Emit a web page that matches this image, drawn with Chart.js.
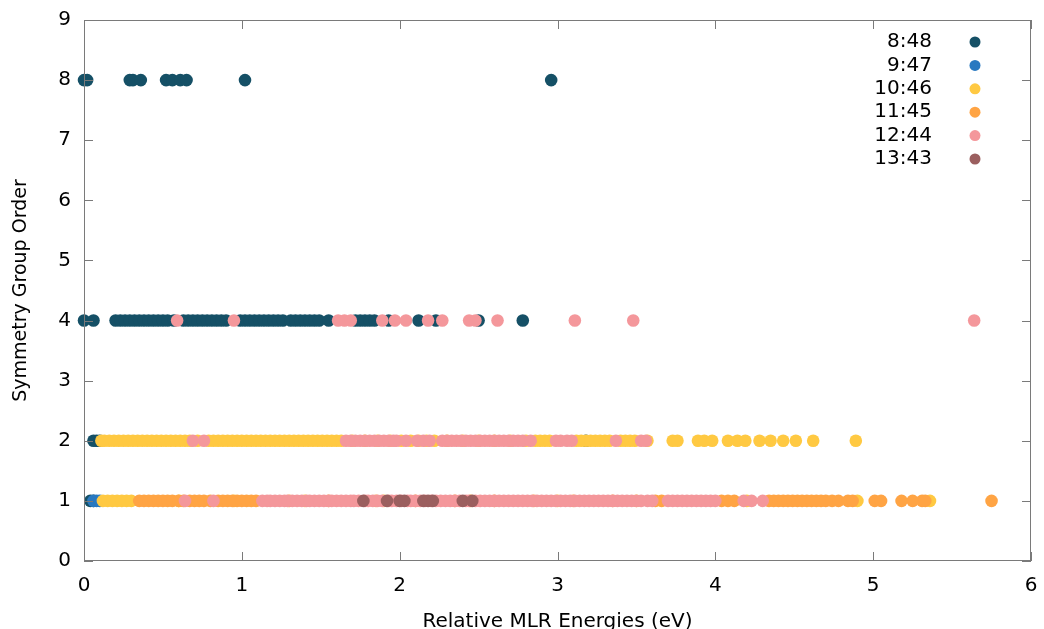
<!DOCTYPE html>
<html lang="en">
  <head>
    <meta charset="UTF-8" />
    <title>Symmetry Group Order</title>
    <style>
      body { margin: 0; background: #fff; }
    </style>
  </head>
  <body>
    <canvas id="chart" width="1044" height="629"></canvas>
    <script src="https://cdn.jsdelivr.net/npm/chart.js@4.4.0/dist/chart.umd.min.js"></script>
    <script>
      const seriesNames = ["8:48", "9:47", "10:46", "11:45", "12:44", "13:43"];
      const seriesColors = ["#155066", "#2878c0", "#ffc942", "#ffa444", "#f4979b", "#9b5f5f"];
      const xTicks = [0, 1, 2, 3, 4, 5, 6];
      const yTicks = [0, 1, 2, 3, 4, 5, 6, 7, 8, 9];

      // 8:48
      const s848_y8 = [0.0, 0.02, 0.29, 0.31, 0.36, 0.52, 0.56, 0.61, 0.65, 1.02, 2.96];
      const s848_y4 = [0.0, 0.06, 0.2, 0.23, 0.26, 0.29, 0.32, 0.35, 0.38, 0.41, 0.44, 0.47, 0.5, 0.53, 0.57,
        0.63, 0.66, 0.69, 0.72, 0.75, 0.78, 0.81, 0.84, 0.87, 0.9, 0.99, 1.02, 1.05, 1.08, 1.11, 1.14, 1.17,
        1.2, 1.23, 1.26, 1.31, 1.34, 1.37, 1.4, 1.43, 1.46, 1.49, 1.55, 1.72, 1.75, 1.78, 1.81, 1.84, 1.93,
        2.12, 2.23, 2.5, 2.78];
      const s848_y2 = [0.06, 0.08, 0.1, 3.18];
      const s848_y1 = [0.04, 0.06];

      // 9:47
      const s947_y1 = [0.06, 0.08, 0.1];

      // 10:46
      const s1046_y2 = [0.11, 0.13, 0.16, 0.19, 0.22, 0.25, 0.28, 0.31, 0.34, 0.37, 0.4, 0.43, 0.46, 0.49,
        0.52, 0.55, 0.58, 0.61, 0.64, 0.67, 0.72, 0.79, 0.82, 0.85, 0.88, 0.91, 0.94, 0.97, 1.0, 1.03, 1.06,
        1.09, 1.12, 1.15, 1.18, 1.21, 1.24, 1.27, 1.3, 1.33, 1.36, 1.39, 1.42, 1.45, 1.48, 1.51, 1.54, 1.57,
        1.6, 1.63, 1.7, 1.78, 1.86, 1.94, 2.01, 2.07, 2.12, 2.17, 2.22, 2.3, 2.4, 2.5, 2.6, 2.7, 2.8, 2.86,
        2.89, 2.92, 2.95, 3.12, 3.15, 3.18, 3.21, 3.24, 3.27, 3.3, 3.33, 3.4, 3.43, 3.46, 3.49, 3.57, 3.73,
        3.76, 3.89, 3.93, 3.98, 4.08, 4.14, 4.19, 4.28, 4.35, 4.43, 4.51, 4.62, 4.89];
      const s1046_y1 = [0.12, 0.15, 0.18, 0.21, 0.24, 0.27, 0.3, 0.6, 0.95, 1.4, 1.9, 2.45, 3.0, 3.5, 4.2,
        4.9, 5.36];

      // 11:45
      const s1145_y1 = [0.35, 0.38, 0.41, 0.44, 0.47, 0.5, 0.53, 0.56, 0.6, 0.63, 0.67, 0.7, 0.73, 0.76,
        0.8, 0.85, 0.88, 0.91, 0.94, 0.97, 1.0, 1.03, 1.06, 1.09, 1.3, 1.55, 1.85, 2.1, 2.35, 2.6, 2.85,
        3.1, 3.35, 3.62, 3.66, 4.04, 4.08, 4.12, 4.34, 4.37, 4.4, 4.43, 4.46, 4.49, 4.52, 4.55, 4.58, 4.61,
        4.64, 4.67, 4.7, 4.74, 4.78, 4.84, 4.87, 5.01, 5.05, 5.18, 5.25, 5.31, 5.33, 5.75];

      // 12:44
      const s1244_y4 = [0.59, 0.95, 1.61, 1.65, 1.69, 1.89, 1.97, 2.04, 2.18, 2.27, 2.44, 2.48, 2.62, 3.11,
        3.48, 5.64];
      const s1244_y2 = [0.69, 0.76, 1.66, 1.69, 1.72, 1.75, 1.78, 1.81, 1.84, 1.87, 1.9, 1.93, 1.96, 1.98,
        2.04, 2.11, 2.15, 2.19, 2.27, 2.3, 2.33, 2.36, 2.39, 2.42, 2.45, 2.48, 2.51, 2.54, 2.57, 2.6, 2.63,
        2.66, 2.69, 2.72, 2.75, 2.78, 2.83, 2.99, 3.02, 3.06, 3.09, 3.37, 3.53, 3.56];
      const s1244_y1 = [0.64, 0.82, 1.13, 1.16, 1.18, 1.21, 1.24, 1.27, 1.29, 1.32, 1.35, 1.38, 1.41, 1.43,
        1.46, 1.49, 1.52, 1.55, 1.57, 1.6, 1.63, 1.66, 1.69, 1.71, 1.74, 1.78, 1.8, 1.83, 1.86, 1.89, 1.93,
        1.95, 1.98, 2.01, 2.05, 2.07, 2.1, 2.13, 2.16, 2.2, 2.23, 2.26, 2.29, 2.32, 2.35, 2.38, 2.42, 2.44,
        2.48, 2.51, 2.54, 2.57, 2.6, 2.63, 2.66, 2.69, 2.72, 2.75, 2.78, 2.81, 2.84, 2.87, 2.9, 2.93, 2.96,
        2.99, 3.02, 3.05, 3.08, 3.11, 3.14, 3.17, 3.2, 3.23, 3.26, 3.29, 3.32, 3.35, 3.38, 3.41, 3.44, 3.47,
        3.5, 3.53, 3.57, 3.6, 3.7, 3.73, 3.76, 3.79, 3.82, 3.85, 3.88, 3.91, 3.94, 3.97, 4.0, 4.18, 4.23, 4.3];

      // 13:43
      const s1343_y1 = [1.77, 1.92, 2.0, 2.03, 2.15, 2.18, 2.21, 2.4, 2.46];

      function pts(level, xs) {
        return xs.map((x) => ({ x: x, y: level }));
      }

      const seriesPoints = [
        [...pts(8, s848_y8), ...pts(4, s848_y4), ...pts(2, s848_y2), ...pts(1, s848_y1)],
        pts(1, s947_y1),
        [...pts(2, s1046_y2), ...pts(1, s1046_y1)],
        pts(1, s1145_y1),
        [...pts(4, s1244_y4), ...pts(2, s1244_y2), ...pts(1, s1244_y1)],
        pts(1, s1343_y1),
      ];

      const font = "'DejaVu Sans', sans-serif";

      // no extra room for edge labels, so the plot box sits where the padding says
      function noEdgePadding(s) {
        s.paddingTop = 0;
        s.paddingBottom = 0;
        s.paddingLeft = 0;
        s.paddingRight = 0;
      }

      // gnuplot style box with inward ticks on all four sides
      const framePlugin = {
        id: "frame",
        afterDraw(chart) {
          const { ctx, chartArea: a, scales } = chart;
          const len = 9;
          ctx.save();
          ctx.strokeStyle = "#7a7a7a";
          ctx.lineWidth = 1;
          ctx.strokeRect(Math.round(a.left) + 0.5, Math.round(a.top) + 0.5,
            Math.round(a.width) - 1, Math.round(a.height) - 1);
          ctx.beginPath();
          scales.x.ticks.forEach((t) => {
            const px = Math.round(scales.x.getPixelForValue(t.value)) + 0.5;
            ctx.moveTo(px, a.bottom); ctx.lineTo(px, a.bottom - len);
            ctx.moveTo(px, a.top); ctx.lineTo(px, a.top + len);
          });
          scales.y.ticks.forEach((t) => {
            const py = Math.round(scales.y.getPixelForValue(t.value)) + 0.5;
            ctx.moveTo(a.left, py); ctx.lineTo(a.left + len, py);
            ctx.moveTo(a.right, py); ctx.lineTo(a.right - len, py);
          });
          ctx.stroke();
          ctx.restore();
        },
      };

      // key in the top right corner, text first then the marker
      const keyPlugin = {
        id: "key",
        afterDraw(chart) {
          const { ctx, chartArea: a } = chart;
          ctx.save();
          ctx.font = "20px " + font;
          ctx.textAlign = "right";
          ctx.textBaseline = "middle";
          seriesNames.forEach((name, i) => {
            const y = a.top + 22 + i * 23.4;
            ctx.fillStyle = "#000";
            ctx.fillText(name, a.right - 99, y);
            ctx.beginPath();
            ctx.arc(a.right - 56, y, 5.5, 0, Math.PI * 2);
            ctx.fillStyle = seriesColors[i];
            ctx.fill();
          });
          ctx.restore();
        },
      };

      const config = {
        type: "scatter",
        data: {
          datasets: seriesPoints.map((data, i) => ({
            label: seriesNames[i],
            data: data,
            backgroundColor: seriesColors[i],
            borderWidth: 0,
            pointRadius: 6.3,
            order: 5 - i,
            clip: false,
          })),
        },
        options: {
          responsive: false,
          animation: false,
          events: [],
          devicePixelRatio: 1,
          layout: { padding: { top: 20, right: 13, left: 0, bottom: 0 } },
          plugins: { legend: { display: false }, tooltip: { enabled: false } },
          scales: {
            x: {
              type: "linear",
              min: 0,
              max: 6,
              afterBuildTicks: (s) => { s.ticks = xTicks.map((v) => ({ value: v })); },
              afterFit: (s) => { s.height = 68; noEdgePadding(s); },
              grid: { display: false, drawTicks: false },
              border: { display: false },
              ticks: { color: "#000", font: { family: font, size: 20 }, padding: 13 },
              title: {
                display: true,
                text: "Relative MLR Energies (eV)",
                color: "#000",
                font: { family: font, size: 20, lineHeight: 1 },
                padding: { top: 0, bottom: -3 },
              },
            },
            y: {
              type: "linear",
              min: 0,
              max: 9,
              afterBuildTicks: (s) => { s.ticks = yTicks.map((v) => ({ value: v })); },
              afterFit: (s) => { s.width = 84; noEdgePadding(s); },
              grid: { display: false, drawTicks: false },
              border: { display: false },
              ticks: { color: "#000", font: { family: font, size: 20 }, padding: 13 },
              title: {
                display: true,
                text: "Symmetry Group Order",
                color: "#000",
                font: { family: font, size: 19, lineHeight: 1 },
                padding: { top: 12, bottom: 0 },
              },
            },
          },
        },
        plugins: [framePlugin, keyPlugin],
      };

      new Chart(document.getElementById("chart"), config);
    </script>
  </body>
</html>
